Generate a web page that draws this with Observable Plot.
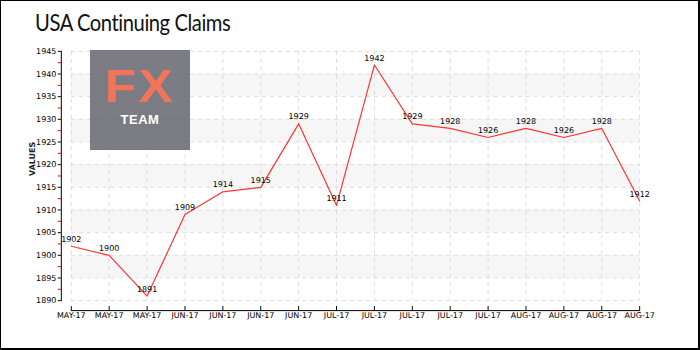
<!DOCTYPE html>
<html>
<head>
<meta charset="utf-8">
<script src="https://cdn.jsdelivr.net/npm/d3@7"></script>
<script src="https://cdn.jsdelivr.net/npm/@observablehq/plot@0.6"></script>
<style>
  html, body { margin: 0; padding: 0; background: #fff; }
  #chart { position: relative; width: 700px; height: 350px; box-sizing: border-box;
           border-style: solid; border-color: #000; border-width: 1px 2px 2px 1px; overflow: hidden; }
  #title { position: absolute; left: 34px; top: 6px; font-family: Lato, sans-serif; font-weight: 400;
           font-size: 24px; letter-spacing: -0.5px; color: #111; white-space: nowrap;
           transform: scaleX(0.84); transform-origin: left top; }
  #plot { position: absolute; left: -1px; top: -1px; }
  #logo { position: absolute; left: 89px; top: 49px; width: 100px; height: 100px; background: rgba(110,110,120,0.9);
          font-family: "Liberation Sans", Arial, sans-serif; text-align: center; }
  #logo .fx { color: #f2745a; font-size: 46px; font-weight: 700; letter-spacing: 2px; margin-top: 13px; line-height: 46px;
              transform: scaleX(1.12); }
  #logo .team { color: #fff; font-size: 13px; font-weight: 700; letter-spacing: 0.5px; margin-top: 3px; }
</style>
</head>
<body>
<div id="chart">
  <div id="plot"></div>
  <div id="logo"><div class="fx">FX</div><div class="team">TEAM</div></div>
  <div id="title">USA Continuing Claims</div>
</div>
<script>
const labels = ["MAY-17","MAY-17","MAY-17","JUN-17","JUN-17","JUN-17","JUN-17","JUL-17","JUL-17","JUL-17","JUL-17","JUL-17","AUG-17","AUG-17","AUG-17","AUG-17"];
const values = [1902, 1900, 1891, 1909, 1914, 1915, 1929, 1911, 1942, 1929, 1928, 1926, 1928, 1926, 1928, 1912];
const yTicks = [1890, 1895, 1900, 1905, 1910, 1915, 1920, 1925, 1930, 1935, 1940, 1945];
const yMinorTicks = [1892.5, 1897.5, 1902.5, 1907.5, 1912.5, 1917.5, 1922.5, 1927.5, 1932.5, 1937.5, 1942.5];
const bandStarts = [1895, 1905, 1915, 1925, 1935];

const data = values.map((v, i) => ({i, v, label: labels[i]}));
const idx = data.map(d => d.i);
const font = "'DejaVu Sans', sans-serif";

const chart = Plot.plot({
  width: 700, height: 350,
  marginLeft: 71, marginRight: 59, marginTop: 51, marginBottom: 49,
  style: {fontFamily: font, fontSize: "8px", background: "transparent", overflow: "visible"},
  x: {type: "point", domain: idx, padding: 0},
  y: {domain: [1890, 1945]},
  marks: [
    Plot.rect(bandStarts, {y1: d => d, y2: d => d + 5, fill: "#f6f6f6"}),
    Plot.gridY(yTicks, {stroke: "#dcdcdc", strokeOpacity: 1, strokeDasharray: "4,4"}),
    Plot.gridX(idx, {stroke: "#dcdcdc", strokeOpacity: 1, strokeDasharray: "4,4"}),
    Plot.axisY(yMinorTicks, {tickSize: 3, stroke: "#e00", text: null, label: null, dx: -10}),
    Plot.axisY(yTicks, {tickSize: 3, tickPadding: 2, dx: -10, label: null, tickFormat: "d", fontSize: 8, fill: "#000", stroke: "#000"}),
    Plot.axisX(idx, {tickSize: 4, dy: 6, tickPadding: 2, tickFormat: i => labels[i], label: null, fontSize: 8, fill: "#000", stroke: "#000"}),
    Plot.frame({anchor: "bottom", dy: 10, stroke: "#000"}),
    Plot.frame({anchor: "left", dx: -10, stroke: "#000"}),
    Plot.line(data, {x: "i", y: "v", stroke: "#ff3333", strokeWidth: 1.2}),
    Plot.text(data, {x: "i", y: "v", text: d => String(d.v), dy: -7, fill: "#000", fontSize: 8}),
    Plot.text(["VALUES"], {frameAnchor: "left", dx: -39, rotate: -90, fontSize: 8, fontWeight: "bold", fill: "#222"})
  ]
});
document.getElementById("plot").appendChild(chart);
</script>
</body>
</html>
